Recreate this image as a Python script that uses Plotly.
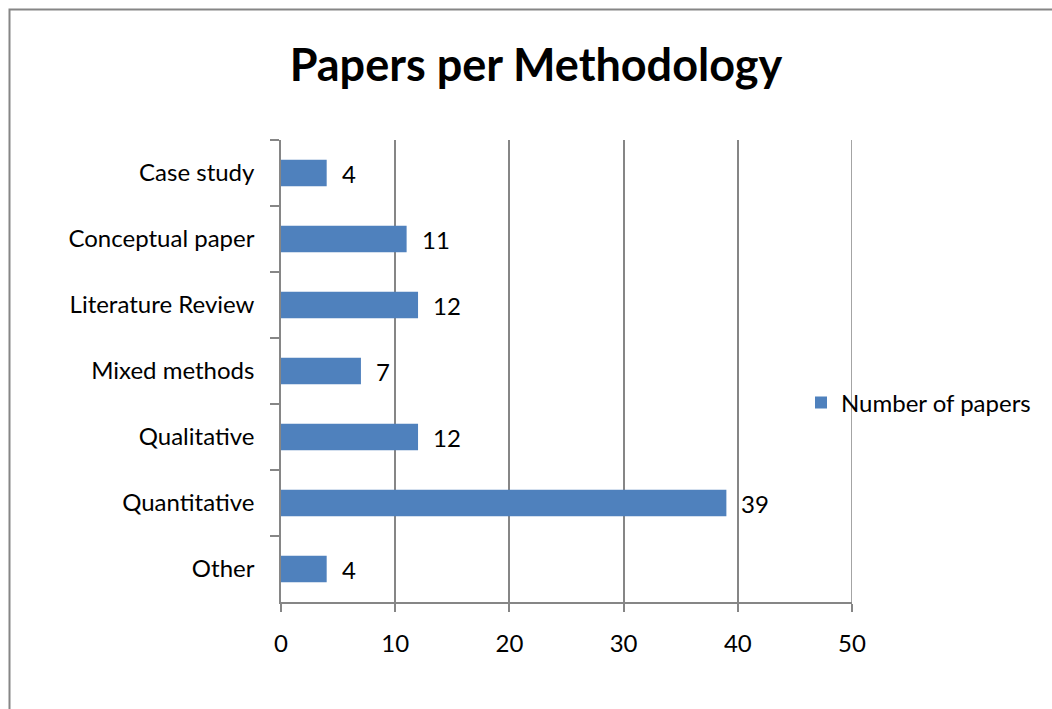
import plotly.graph_objects as go

# Methodology categories listed top to bottom, and paper counts
methodologies = ["Case study", "Conceptual paper", "Literature Review",
                 "Mixed methods", "Qualitative", "Quantitative", "Other"]
paper_counts = [4, 11, 12, 7, 12, 39, 4]
x_ticks = [0, 10, 20, 30, 40, 50]

BAR_COLOR = "#4F81BD"
LINE_COLOR = "#868686"
FONT = "Lato"
FS = 24

W, H = 1052, 709
L, R, T, B = 281, 200, 140, 107
pw, ph = W - L - R, H - T - B

fig = go.Figure()
fig.add_trace(go.Bar(
    y=methodologies,
    x=paper_counts,
    orientation="h",
    name="Number of papers",
    marker=dict(color=BAR_COLOR, line=dict(width=0)),
    width=0.4,
    showlegend=True,
))

# value labels to the right of each bar
for cat, val in zip(methodologies, paper_counts):
    fig.add_annotation(
        x=val, y=cat, xref="x", yref="y",
        text=str(val), showarrow=False,
        xanchor="left", yanchor="middle", xshift=13,
        font=dict(family=FONT, size=FS, color="#000000"),
    )

def px_to_paper_x(px):
    return (px - L) / pw

def px_to_paper_y(py):
    return (H - B - py) / ph

# gridline at the right end of the value axis
fig.add_shape(
    type="line", xref="x", yref="paper",
    x0=x_ticks[-1], x1=x_ticks[-1], y0=0, y1=1,
    line=dict(color=LINE_COLOR, width=1.5),
    layer="above",
)

# outer chart border
fig.add_shape(
    type="rect", xref="paper", yref="paper",
    x0=px_to_paper_x(9.5), x1=px_to_paper_x(1070),
    y0=px_to_paper_y(730), y1=px_to_paper_y(9.5),
    line=dict(color=LINE_COLOR, width=2), fillcolor="rgba(0,0,0,0)",
    layer="below",
)

fig.update_layout(
    width=W, height=H,
    margin=dict(l=L, r=R, t=T, b=B, pad=0),
    paper_bgcolor="white",
    plot_bgcolor="white",
    title=dict(
        text="<b>Papers per Methodology</b>",
        x=536 / W, xanchor="center",
        y=1 - 65 / H, yanchor="middle",
        font=dict(family=FONT, size=45, color="#000000"),
    ),
    font=dict(family=FONT, size=FS, color="#000000"),
    xaxis=dict(
        range=[0, 50],
        tickvals=x_ticks,
        ticktext=[str(v) for v in x_ticks],
        showgrid=True, gridcolor=LINE_COLOR, gridwidth=1.5,
        showline=True, linecolor=LINE_COLOR, linewidth=1.5,
        ticks="outside", ticklen=8, tickcolor=LINE_COLOR, tickwidth=1.5,
        ticklabelstandoff=11,
        zeroline=False,
        fixedrange=True,
    ),
    yaxis=dict(
        type="category",
        categoryorder="array", categoryarray=methodologies,
        autorange="reversed",
        showgrid=False,
        showline=True, linecolor=LINE_COLOR, linewidth=1.5,
        ticks="outside", ticklen=9, tickcolor=LINE_COLOR, tickwidth=1.5,
        tickson="boundaries",
        ticklabelstandoff=20,
        fixedrange=True,
    ),
    legend=dict(
        x=px_to_paper_x(801), xanchor="left",
        y=px_to_paper_y(403), yanchor="middle",
        bgcolor="rgba(0,0,0,0)",
        font=dict(family=FONT, size=FS, color="#000000"),
        itemwidth=30,
    ),
    bargap=0.6,
)

fig.write_html("out.html")
